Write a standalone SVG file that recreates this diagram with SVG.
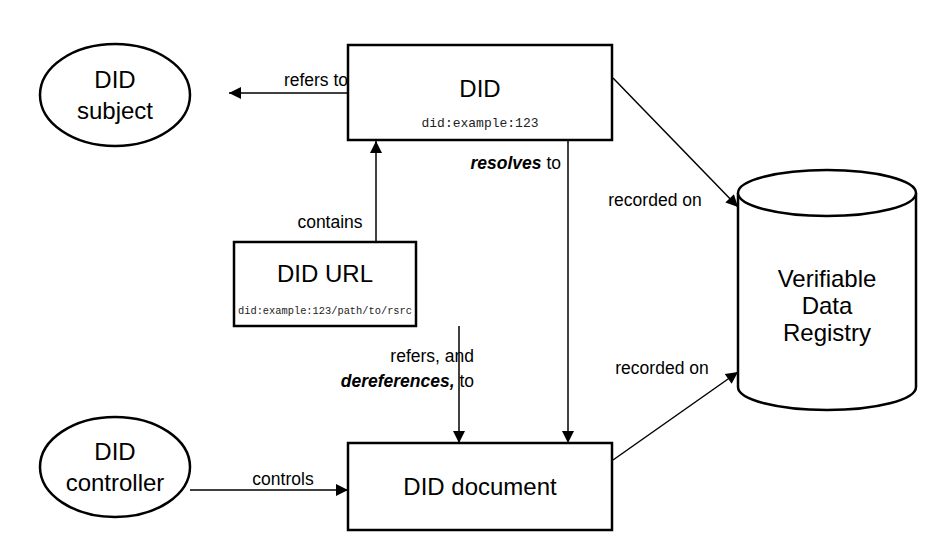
<svg xmlns="http://www.w3.org/2000/svg" width="936" height="554" viewBox="0 0 936 554">
<style>
.s{fill:#fff;stroke:#000;stroke-width:2.5}
.t{font-family:"Liberation Sans",Arial,sans-serif;font-size:24px;text-anchor:middle;fill:#000}
.l{font-family:"Liberation Sans",Arial,sans-serif;font-size:17.5px;fill:#000}
.m{font-family:"Liberation Mono","Courier New",monospace;text-anchor:middle;fill:#222}
.c{stroke:#000;stroke-width:1.5;fill:none}
</style>
<defs><marker id="a" viewBox="0 0 10 10" refX="10" refY="5" markerWidth="14" markerHeight="12" markerUnits="userSpaceOnUse" orient="auto"><path d="M0,0L10,5L0,10z" fill="#000"/></marker></defs>
<rect width="936" height="554" fill="#fff"/>
<g id="did-subject"><ellipse class="s" cx="115" cy="95" rx="75" ry="51"/><text class="t" x="115" y="88">DID</text><text class="t" x="115" y="119">subject</text></g>
<g id="did"><rect class="s" x="348" y="45" width="264" height="95"/><text class="t" x="480" y="97">DID</text><text class="m" x="480" y="127" font-size="13">did:example:123</text></g>
<g id="did-url"><rect class="s" x="234" y="242" width="182" height="84"/><text class="t" x="325" y="282">DID URL</text><text class="m" x="325" y="314" font-size="11" textLength="174" lengthAdjust="spacingAndGlyphs">did:example:123/path/to/rsrc</text></g>
<g id="did-document"><rect class="s" x="348" y="443" width="264" height="87"/><text class="t" x="480" y="495">DID document</text></g>
<g id="did-controller"><ellipse class="s" cx="115" cy="467" rx="75" ry="50"/><text class="t" x="115" y="460">DID</text><text class="t" x="115" y="491">controller</text></g>
<g id="vdr"><path class="s" d="M738,193 L738,387 A89,23 0 0 0 916,387 L916,193"/><ellipse class="s" cx="827" cy="193" rx="89" ry="23"/>
<text class="t" x="827" y="287" font-size="20">Verifiable</text><text class="t" x="827" y="314" font-size="20">Data</text><text class="t" x="827" y="341" font-size="20">Registry</text></g>
<g id="connectors">
<line class="c" marker-end="url(#a)" x1="348" y1="93" x2="229" y2="93"/>
<line class="c" marker-end="url(#a)" x1="376" y1="242" x2="376" y2="141"/>
<line class="c" marker-end="url(#a)" x1="568" y1="141" x2="568" y2="443"/>
<line class="c" marker-end="url(#a)" x1="459" y1="326" x2="459" y2="443"/>
<line class="c" marker-end="url(#a)" x1="190" y1="490" x2="348" y2="490"/>
<line class="c" marker-end="url(#a)" x1="613" y1="78" x2="738" y2="207"/>
<line class="c" marker-end="url(#a)" x1="613" y1="460" x2="738" y2="372"/>
<text class="l" x="316" y="86" text-anchor="middle">refers to</text>
<text class="l" x="330" y="228" text-anchor="middle">contains</text>
<text class="l" x="561" y="169" text-anchor="end"><tspan font-weight="bold" font-style="italic">resolves</tspan> to</text>
<text class="l" x="474" y="362" text-anchor="end">refers, and</text>
<text class="l" x="474" y="387" text-anchor="end"><tspan font-weight="bold" font-style="italic">dereferences,</tspan> to</text>
<text class="l" x="283" y="485" text-anchor="middle">controls</text>
<text class="l" x="655" y="206" text-anchor="middle">recorded on</text>
<text class="l" x="662" y="374" text-anchor="middle">recorded on</text>
</g>
</svg>
